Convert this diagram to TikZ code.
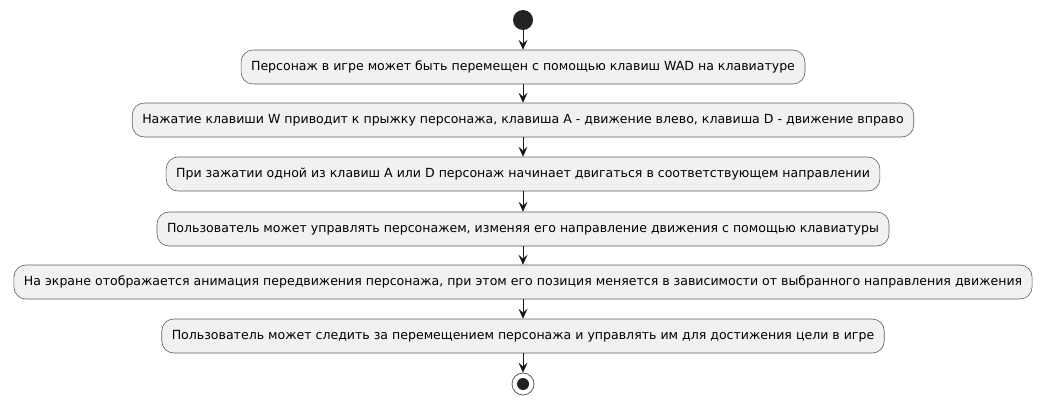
\documentclass[tikz,border=0pt]{standalone}
\usepackage{fontspec}
\setmainfont{DejaVu Sans}
\usetikzlibrary{arrows.meta}
\definecolor{boxfill}{HTML}{F1F1F1}
\definecolor{boxline}{HTML}{181818}
\definecolor{dot}{HTML}{222222}
\begin{document}
\begin{tikzpicture}[x=1pt,y=-1pt,
  act/.style={draw=boxline!70, line width=0.6pt, fill=boxfill, rounded corners=12pt,
    minimum height=34pt, inner xsep=10pt, inner ysep=0pt, font=\fontsize{12.55}{14}\selectfont, text=black},
  flow/.style={draw=boxline, line width=0.8pt, -{Stealth[length=10pt,width=9pt,inset=4pt]}}]
\useasboundingbox (0,0) rectangle (1046,405);
\node[circle, fill=dot, minimum size=20pt, inner sep=0pt] (start) at (523,20) {};
\node[act] (a1) at (523,67) {Персонаж в игре может быть перемещен с помощью клавиш WAD на клавиатуре};
\node[act] (a2) at (523,120) {Нажатие клавиши W приводит к прыжку персонажа, клавиша A - движение влево, клавиша D - движение вправо};
\node[act] (a3) at (523,174) {При зажатии одной из клавиш A или D персонаж начинает двигаться в соответствующем направлении};
\node[act] (a4) at (523,229) {Пользователь может управлять персонажем, изменяя его направление движения с помощью клавиатуры};
\node[act] (a5) at (523,282) {На экране отображается анимация передвижения персонажа, при этом его позиция меняется в зависимости от выбранного направления движения};
\node[act] (a6) at (523,336) {Пользователь может следить за перемещением персонажа и управлять им для достижения цели в игре};
\node[circle, draw=boxline!70, line width=0.8pt, fill=white, minimum size=22pt, inner sep=0pt] (stop) at (523,384) {};
\node[circle, fill=dot, minimum size=12pt, inner sep=0pt] (stopin) at (stop.center) {};
\draw[flow] (start) -- (a1);
\draw[flow] (a1) -- (a2);
\draw[flow] (a2) -- (a3);
\draw[flow] (a3) -- (a4);
\draw[flow] (a4) -- (a5);
\draw[flow] (a5) -- (a6);
\draw[flow] (a6) -- (stop);
\end{tikzpicture}
\end{document}
